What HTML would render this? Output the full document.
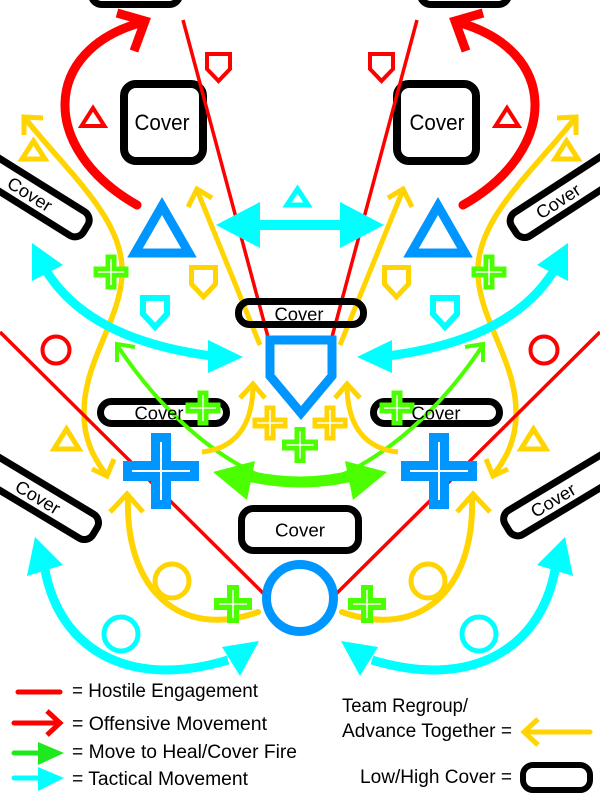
<!DOCTYPE html>
<html><head><meta charset="utf-8"><style>html,body{margin:0;padding:0;background:#fff;width:600px;height:800px;overflow:hidden}svg{display:block}</style></head>
<body>
<svg width="600" height="800" viewBox="0 0 600 800" xmlns="http://www.w3.org/2000/svg">
<rect width="600" height="800" fill="#fff"/>
<g id="L" fill="none">
  <!-- covers -->
  <rect x="91.5" y="-30" width="88" height="34.5" rx="10" stroke="#000" stroke-width="7"/>
  <rect x="124" y="84" width="79" height="77" rx="12" stroke="#000" stroke-width="8"/>
  <rect x="100.5" y="401.5" width="126" height="22" rx="11" stroke="#000" stroke-width="7"/>
  <!-- red offensive -->
  <path d="M137,205 C40,150 40,50 143,22" stroke="#f00" stroke-width="9" stroke-linecap="round"/>
  <polyline points="117,13 145,21 134,51" stroke="#f00" stroke-width="9" stroke-linejoin="miter"/>
  <line x1="183" y1="20" x2="268" y2="337" stroke="#f00" stroke-width="3.5"/>
  <path d="M207,54H230V69L218.5,81L207,69Z" stroke="#f00" stroke-width="4"/>
  <path d="M93,108L104.5,126H81.5Z" stroke="#f00" stroke-width="4"/>
  <!-- yellow S -->
  <path d="M24,117 C70,175 125,220 122,275 C120,320 85,360 84,410 C83,440 95,460 106,474" stroke="#ffd400" stroke-width="5.5"/>
  <polyline points="43,118 24,117 24,135" stroke="#ffd400" stroke-width="5"/>
  <polyline points="92,469 107,476 114,459" stroke="#ffd400" stroke-width="5"/>
  <line x1="197" y1="190" x2="260" y2="345" stroke="#ffd400" stroke-width="5"/>
  <polyline points="212,198 197,189 188,207" stroke="#ffd400" stroke-width="5"/>
  <path d="M191.5,267.5H215.5V284L203.5,297L191.5,284Z" stroke="#ffd400" stroke-width="5"/>
  <path d="M33.5,141L45,159H22Z" stroke="#ffd400" stroke-width="5"/>
  <path d="M66.5,429L79,449H54Z" stroke="#ffd400" stroke-width="5"/>
  <!-- blue triangle -->
  <path d="M162,206L189,253H135Z" stroke="#0096ff" stroke-width="9"/>
  <!-- cyan mid -->
  <path d="M47,272 Q90,340 212,356" stroke="#00ffff" stroke-width="9"/>
  <polygon points="32,243 63,265 32,281" fill="#00ffff"/>
  <polygon points="243,357 208,340 208,373" fill="#00ffff"/>
  <path d="M143,298H167V314L155,327L143,314Z" stroke="#00ffff" stroke-width="6"/>
  <circle cx="56" cy="350" r="13.5" stroke="#f00" stroke-width="4"/>
  <line x1="0" y1="332" x2="266" y2="596" stroke="#f00" stroke-width="3.5"/>
  <!-- green thin -->
  <path d="M117,345 C150,395 200,450 265,478" stroke="#4cff00" stroke-width="4"/>
  <polyline points="135,347 117,344 117,362" stroke="#4cff00" stroke-width="4"/>
  <polygon points="213,472 255,461 247,500" fill="#4cff00"/>
  <!-- yellow small curve -->
  <path d="M202,452 C240,448 252,420 253,388" stroke="#ffd400" stroke-width="5"/>
  <polyline points="240,398 253,384 265,398" stroke="#ffd400" stroke-width="5"/>
  <!-- yellow bottom curve -->
  <path d="M128,497 C125,590 180,640 258,612" stroke="#ffd400" stroke-width="6" stroke-linecap="round"/>
  <polyline points="110,512 127,494 143,512" stroke="#ffd400" stroke-width="5"/>
  <circle cx="172" cy="581" r="17" stroke="#ffd400" stroke-width="5"/>
  <circle cx="121" cy="634" r="17" stroke="#00ffff" stroke-width="5"/>
  <!-- cyan bottom -->
  <path d="M45,570 C60,650 130,690 228,660" stroke="#00ffff" stroke-width="9"/>
  <polygon points="35,537 63,565 27,576" fill="#00ffff"/>
  <polygon points="259,641 222,647 240,676" fill="#00ffff"/>
  <!-- crosses -->
  <g transform="translate(111,272)"><path d="M-17.5,0H17.5M0,-17.5V17.5" stroke="#4cff00" stroke-width="11"/><path d="M-13,0H13M0,-13V13" stroke="#fff" stroke-width="1.5"/></g>
  <g transform="translate(203,408)"><path d="M-17.5,0H17.5M0,-17.5V17.5" stroke="#4cff00" stroke-width="11"/><path d="M-13,0H13M0,-13V13" stroke="#fff" stroke-width="1.5"/></g>
  <g transform="translate(270,423)"><path d="M-17.5,0H17.5M0,-17.5V17.5" stroke="#ffd400" stroke-width="11"/><path d="M-13,0H13M0,-13V13" stroke="#fff" stroke-width="1.5"/></g>
  <g transform="translate(233,604)"><path d="M-19,0H19M0,-19V19" stroke="#4cff00" stroke-width="12"/><path d="M-14,0H14M0,-14V14" stroke="#fff" stroke-width="1.5"/></g>
  <g transform="translate(161,471)"><path d="M-38,0H38M0,-38V38" stroke="#0096ff" stroke-width="20"/><path d="M-29,0H29M0,-29V29" stroke="#fff" stroke-width="2"/></g>
</g>
<use href="#L" transform="matrix(-1 0 0 1 600 0)"/>

<g fill="none">
  <rect x="238.5" y="301.5" width="125" height="23" rx="11" stroke="#000" stroke-width="7"/>
  <rect x="241.5" y="508.5" width="117" height="42" rx="12" stroke="#000" stroke-width="7"/>
  <path d="M270,340H332V376L301,413L270,376Z" stroke="#0096ff" stroke-width="9"/>
  <line x1="255" y1="225" x2="345" y2="225" stroke="#00ffff" stroke-width="10"/>
  <polygon points="216,225 260,202 260,248" fill="#00ffff"/>
  <polygon points="384,225 340,202 340,248" fill="#00ffff"/>
  <path d="M297.5,189L308,205H287Z" stroke="#00ffff" stroke-width="5"/>
  <path d="M240,474 Q300,490 360,474" stroke="#4cff00" stroke-width="11"/>
  <g transform="translate(300,445)"><path d="M-18,0H18M0,-18V18" stroke="#4cff00" stroke-width="11"/><path d="M-13.5,0H13.5M0,-13.5V13.5" stroke="#fff" stroke-width="1.5"/></g>
  <circle cx="300" cy="598" r="33.5" stroke="#0096ff" stroke-width="9"/>
  <!-- rotated covers -->
  <g transform="translate(30,194) rotate(32)"><rect x="-90" y="-14" width="155.5" height="28" rx="10" stroke="#000" stroke-width="7"/></g>
  <g transform="translate(558,201) rotate(-33)"><rect x="-52.5" y="-14" width="152.5" height="28" rx="10" stroke="#000" stroke-width="7"/></g>
  <g transform="translate(38,497) rotate(31)"><rect x="-90" y="-14" width="156.5" height="28" rx="10" stroke="#000" stroke-width="7"/></g>
  <g transform="translate(553,500) rotate(-31)"><rect x="-53.5" y="-14" width="153.5" height="28" rx="10" stroke="#000" stroke-width="7"/></g>
  <!-- legend -->
  <line x1="18" y1="692" x2="60" y2="692" stroke="#f00" stroke-width="5" stroke-linecap="round"/>
  <line x1="14" y1="723" x2="58" y2="723" stroke="#f00" stroke-width="5" stroke-linecap="round"/>
  <polyline points="47,711 60,723 47,735" stroke="#f00" stroke-width="5"/>
  <line x1="14" y1="753" x2="42" y2="753" stroke="#1ee81e" stroke-width="5" stroke-linecap="round"/>
  <polygon points="38,742 64,753 38,765" fill="#1ee81e"/>
  <line x1="14" y1="778" x2="42" y2="778" stroke="#00ffff" stroke-width="5" stroke-linecap="round"/>
  <polygon points="38,767 64,778 38,791" fill="#00ffff"/>
  <line x1="526" y1="732" x2="590" y2="732" stroke="#ffd400" stroke-width="5" stroke-linecap="round"/>
  <polyline points="538,719 524,732 538,745" stroke="#ffd400" stroke-width="5"/>
  <rect x="523" y="765" width="67" height="25" rx="10" stroke="#000" stroke-width="6"/>
</g>

<g font-family="'Liberation Sans', Arial, sans-serif" fill="#000">
  <text x="162" y="130" font-size="22" text-anchor="middle" textLength="55" lengthAdjust="spacingAndGlyphs">Cover</text>
  <text x="437" y="130" font-size="22" text-anchor="middle" textLength="55" lengthAdjust="spacingAndGlyphs">Cover</text>
  <text x="299" y="320.5" font-size="18" text-anchor="middle" textLength="49" lengthAdjust="spacingAndGlyphs">Cover</text>
  <text x="159" y="419.5" font-size="18" text-anchor="middle" textLength="49" lengthAdjust="spacingAndGlyphs">Cover</text>
  <text x="436" y="419.5" font-size="18" text-anchor="middle" textLength="49" lengthAdjust="spacingAndGlyphs">Cover</text>
  <text x="300" y="536.5" font-size="18" text-anchor="middle" textLength="50" lengthAdjust="spacingAndGlyphs">Cover</text>
  <g transform="translate(30,194) rotate(32)"><text x="0" y="6.5" font-size="18" text-anchor="middle" textLength="49" lengthAdjust="spacingAndGlyphs">Cover</text></g>
  <g transform="translate(558,201) rotate(-33)"><text x="0" y="6.5" font-size="18" text-anchor="middle" textLength="49" lengthAdjust="spacingAndGlyphs">Cover</text></g>
  <g transform="translate(38,497) rotate(31)"><text x="0" y="6.5" font-size="18" text-anchor="middle" textLength="49" lengthAdjust="spacingAndGlyphs">Cover</text></g>
  <g transform="translate(553,500) rotate(-31)"><text x="0" y="6.5" font-size="18" text-anchor="middle" textLength="49" lengthAdjust="spacingAndGlyphs">Cover</text></g>
  <text x="72" y="697" font-size="19" textLength="186" lengthAdjust="spacingAndGlyphs">= Hostile Engagement</text>
  <text x="72" y="730" font-size="19" textLength="195" lengthAdjust="spacingAndGlyphs">= Offensive Movement</text>
  <text x="72" y="758" font-size="19" textLength="225" lengthAdjust="spacingAndGlyphs">= Move to Heal/Cover Fire</text>
  <text x="72" y="785" font-size="19" textLength="176" lengthAdjust="spacingAndGlyphs">= Tactical Movement</text>
  <text x="342" y="712" font-size="19" textLength="126" lengthAdjust="spacingAndGlyphs">Team Regroup/</text>
  <text x="342" y="737" font-size="19" textLength="170" lengthAdjust="spacingAndGlyphs">Advance Together =</text>
  <text x="360" y="783" font-size="19" textLength="152" lengthAdjust="spacingAndGlyphs">Low/High Cover =</text>
</g>
</svg>
</body></html>
